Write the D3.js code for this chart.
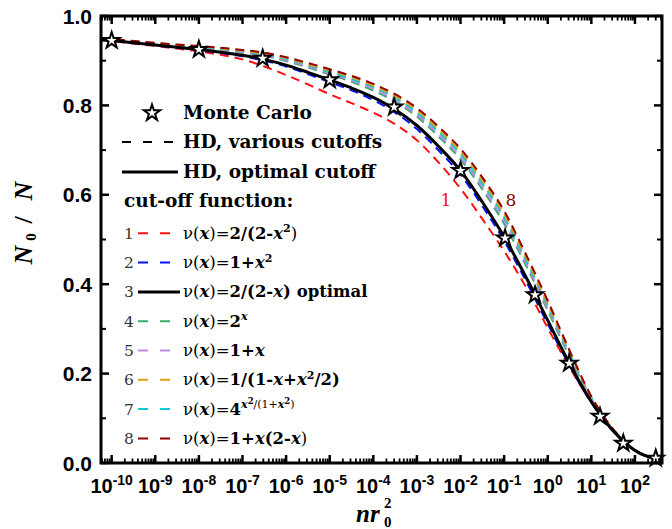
<!DOCTYPE html>
<html><head><meta charset="utf-8">
<script src="https://cdn.jsdelivr.net/npm/d3@7"></script>
<style>body{margin:0;background:#fff} svg{display:block}</style>
</head><body>
<svg id="c" width="672" height="529"></svg>
<script>
// ---- data (x = n r0^2, half-decade grid) ----
const xGrid = [5.62e-11, 1e-10, 3.16e-10, 1e-9, 3.16e-9, 1e-8, 3.16e-8, 1e-7, 3.16e-7, 1e-6, 3.16e-6, 1e-5, 3.16e-5, 1e-4, 3.16e-4, 1e-3, 3.16e-3, 1e-2, 3.16e-2, 0.1, 0.316, 1, 3.16, 10, 31.6, 100, 417];
const hd1 = [0.946, 0.944, 0.938, 0.933, 0.927, 0.921, 0.913, 0.903, 0.887, 0.868, 0.847, 0.825, 0.805, 0.784, 0.758, 0.722, 0.672, 0.614, 0.546, 0.474, 0.394, 0.302, 0.214, 0.136, 0.071, 0.027, 0.006];
const hd2 = [0.947, 0.945, 0.940, 0.934, 0.929, 0.924, 0.917, 0.910, 0.900, 0.887, 0.870, 0.852, 0.834, 0.812, 0.784, 0.747, 0.699, 0.645, 0.575, 0.497, 0.407, 0.311, 0.218, 0.135, 0.071, 0.028, 0.006];
const hd3 = [0.947, 0.945, 0.940, 0.935, 0.930, 0.925, 0.919, 0.912, 0.903, 0.890, 0.874, 0.857, 0.839, 0.818, 0.791, 0.755, 0.708, 0.654, 0.584, 0.506, 0.416, 0.319, 0.222, 0.137, 0.072, 0.028, 0.006];
const hd4 = [0.949, 0.947, 0.942, 0.938, 0.933, 0.929, 0.924, 0.918, 0.911, 0.899, 0.885, 0.869, 0.853, 0.833, 0.808, 0.775, 0.730, 0.679, 0.612, 0.535, 0.442, 0.341, 0.237, 0.143, 0.074, 0.029, 0.006];
const hd5 = [0.949, 0.947, 0.943, 0.938, 0.934, 0.930, 0.925, 0.919, 0.912, 0.901, 0.887, 0.872, 0.856, 0.837, 0.812, 0.779, 0.735, 0.684, 0.618, 0.542, 0.448, 0.346, 0.241, 0.144, 0.075, 0.029, 0.006];
const hd6 = [0.950, 0.948, 0.944, 0.939, 0.935, 0.932, 0.928, 0.922, 0.916, 0.906, 0.892, 0.878, 0.863, 0.844, 0.821, 0.789, 0.746, 0.697, 0.632, 0.557, 0.460, 0.357, 0.248, 0.147, 0.076, 0.029, 0.006];
const hd7 = [0.949, 0.947, 0.943, 0.939, 0.935, 0.931, 0.927, 0.921, 0.914, 0.904, 0.890, 0.875, 0.859, 0.841, 0.817, 0.784, 0.741, 0.691, 0.625, 0.550, 0.454, 0.352, 0.245, 0.146, 0.075, 0.029, 0.006];
const hd8 = [0.950, 0.948, 0.944, 0.940, 0.936, 0.933, 0.929, 0.924, 0.918, 0.908, 0.895, 0.881, 0.866, 0.848, 0.825, 0.794, 0.752, 0.703, 0.639, 0.564, 0.467, 0.363, 0.252, 0.149, 0.076, 0.029, 0.006];
const mcX = [1e-10, 1e-8, 2.9e-7, 1e-5, 3e-4, 1e-2, 0.105, 0.51, 3.1, 15.8, 54, 300];
const mcY = [0.945, 0.925, 0.905, 0.857, 0.796, 0.654, 0.503, 0.376, 0.223, 0.104, 0.044, 0.0105];
const seriesNums = ["1","2","3","4","5","6","7","8"];
const seriesColors = ["#ff1010","#0010ff","#000000","#3aaa6a","#c08ae0","#e0a010","#10c8d0","#900000"];
const seriesData = [hd1, hd2, hd3, hd4, hd5, hd6, hd7, hd8];
const drawOrder = [3, 4, 6, 5, 7, 0, 1, 2];
const xTickExps = [-10,-9,-8,-7,-6,-5,-4,-3,-2,-1,0,1,2];
const yTicks = [0.0, 0.2, 0.4, 0.6, 0.8, 1.0];
const yMinor = [0.1, 0.3, 0.5, 0.7, 0.9];
// legend formulas: [text, style, level]
const formulas = [
  [["ν(","n",0],["x","bi",0],[")=","n",0],["2/(2-","b",0],["x","bi",0],["2","b",1],[")","n",0]],
  [["ν(","n",0],["x","bi",0],[")=","n",0],["1+","b",0],["x","bi",0],["2","b",1]],
  [["ν(","n",0],["x","bi",0],[")=","n",0],["2/(2-","b",0],["x","bi",0],[") optimal","b",0]],
  [["ν(","n",0],["x","bi",0],[")=","n",0],["2","b",0],["x","bi",1]],
  [["ν(","n",0],["x","bi",0],[")=","n",0],["1+","b",0],["x","bi",0]],
  [["ν(","n",0],["x","bi",0],[")=","n",0],["1/(1-","b",0],["x","bi",0],["+","b",0],["x","bi",0],["2","b",1],["/2)","b",0]],
  [["ν(","n",0],["x","bi",0],[")=","n",0],["4","b",0],["x","bi",1],["2","b",2],["/(1+","n",1],["x","bi",1],["2","b",2],[")","n",1]],
  [["ν(","n",0],["x","bi",0],[")=","n",0],["1+","b",0],["x","bi",0],["(2-","b",0],["x","bi",0],[")","n",0]]
];

const svg = d3.select("#c");
const L = 101, R = 662, T = 16, B = 463;
const x = d3.scaleLog().domain([5.69e-11, 417]).range([L, R]);
const y = d3.scaleLinear().domain([0, 1]).range([B, T]);

const line = d3.line().x(d => x(d[0])).y(d => y(d[1])).curve(d3.curveMonotoneX);
const plot = svg.append("g");
drawOrder.forEach(i => {
  const pts = xGrid.map((v, k) => [v, seriesData[i][k]]);
  plot.append("path").attr("d", line(pts)).attr("fill", "none")
    .attr("stroke", seriesColors[i])
    .attr("stroke-width", i === 2 ? 3 : 2)
    .attr("stroke-dasharray", i === 2 ? null : "9,6");
});
const star = d3.symbol().type(d3.symbolStar).size(82);
mcX.forEach((v, k) => {
  plot.append("path").attr("d", star()).attr("transform", `translate(${x(v)},${y(mcY[k])})`)
    .attr("fill", "#fff").attr("stroke", "#000").attr("stroke-width", 2);
});

// frame
const ax = svg.append("g").attr("stroke", "#000");
ax.append("rect").attr("x", L).attr("y", T).attr("width", R - L).attr("height", B - T)
  .attr("fill", "none").attr("stroke-width", 3);
yTicks.forEach(v => {
  ax.append("line").attr("x1", L).attr("x2", L + 8).attr("y1", y(v)).attr("y2", y(v)).attr("stroke-width", 2.5);
  ax.append("line").attr("x1", R).attr("x2", R - 8).attr("y1", y(v)).attr("y2", y(v)).attr("stroke-width", 2.5);
});
yMinor.forEach(v => {
  ax.append("line").attr("x1", L).attr("x2", L + 5).attr("y1", y(v)).attr("y2", y(v)).attr("stroke-width", 2);
  ax.append("line").attr("x1", R).attr("x2", R - 5).attr("y1", y(v)).attr("y2", y(v)).attr("stroke-width", 2);
});
xTickExps.forEach(e => {
  const px = x(Math.pow(10, e));
  ax.append("line").attr("x1", px).attr("x2", px).attr("y1", B).attr("y2", B - 8).attr("stroke-width", 2.5);
  ax.append("line").attr("x1", px).attr("x2", px).attr("y1", T).attr("y2", T + 8).attr("stroke-width", 2.5);
});
for (let e = -11; e <= 2; e++) {
  for (let m = 2; m <= 9; m++) {
    const v = m * Math.pow(10, e);
    if (v < x.domain()[0] || v > x.domain()[1]) continue;
    const px = x(v);
    ax.append("line").attr("x1", px).attr("x2", px).attr("y1", B).attr("y2", B - 4.5).attr("stroke-width", 1.8);
    ax.append("line").attr("x1", px).attr("x2", px).attr("y1", T).attr("y2", T + 4.5).attr("stroke-width", 1.8);
  }
}
// tick labels
const sans = "'Liberation Sans', Arial, sans-serif";
yTicks.forEach(v => {
  svg.append("text").attr("x", 92).attr("y", y(v) + 7.5).attr("text-anchor", "end")
    .attr("font-family", sans).attr("font-weight", "bold").attr("font-size", 21).text(v.toFixed(1));
});
xTickExps.forEach(e => {
  const t = svg.append("text").attr("x", x(Math.pow(10, e))).attr("y", 493).attr("text-anchor", "middle")
    .attr("font-family", sans).attr("font-weight", "bold").attr("font-size", 20);
  t.append("tspan").text("10");
  t.append("tspan").attr("dy", -8).attr("font-size", 14).text(e < 0 ? "-" + (-e) : String(e));
});
// axis titles
const serif = "'Liberation Serif', 'Times New Roman', serif";
const ylg = svg.append("g").attr("transform", "translate(32,0) rotate(-90)")
  .attr("font-family", serif).attr("font-weight", "bold").attr("text-anchor", "middle");
ylg.append("text").attr("x", -255).attr("y", 0).attr("font-style", "italic").attr("font-size", 26).text("N");
ylg.append("text").attr("x", -237).attr("y", 4).attr("font-size", 15).text("0");
ylg.append("text").attr("x", -220).attr("y", 0).attr("font-size", 26).text("/");
ylg.append("text").attr("x", -191).attr("y", 0).attr("font-style", "italic").attr("font-size", 26).text("N");
svg.append("text").attr("x", 356).attr("y", 522).attr("font-family", serif).attr("font-style", "italic")
  .attr("font-weight", "bold").attr("font-size", 25).text("nr");
svg.append("text").attr("x", 384).attr("y", 508).attr("font-family", serif).attr("font-weight", "bold").attr("font-size", 15).text("2");
svg.append("text").attr("x", 384).attr("y", 527).attr("font-family", serif).attr("font-weight", "bold").attr("font-size", 15).text("0");

// annotations
const dv = "'DejaVu Serif', serif";
svg.append("text").attr("x", 446).attr("y", 206).attr("text-anchor", "middle").attr("font-family", dv)
  .attr("font-size", 17).attr("fill", seriesColors[0]).text(seriesNums[0]);
svg.append("text").attr("x", 511).attr("y", 206).attr("text-anchor", "middle").attr("font-family", dv)
  .attr("font-size", 17).attr("fill", seriesColors[7]).text(seriesNums[7]);

// legend
const lg = svg.append("g");
lg.append("path").attr("d", star()).attr("transform", "translate(152,113)")
  .attr("fill", "#fff").attr("stroke", "#000").attr("stroke-width", 2);
const legText = (xx, yy, s) => lg.append("text").attr("x", xx).attr("y", yy).attr("font-family", dv)
  .attr("font-weight", "bold").attr("font-size", 18.5).text(s);
legText(183, 119, "Monte Carlo");
lg.append("line").attr("x1", 122).attr("x2", 175).attr("y1", 142).attr("y2", 142)
  .attr("stroke", "#000").attr("stroke-width", 2).attr("stroke-dasharray", "9,12");
legText(183, 148, "HD, various cutoffs");
lg.append("line").attr("x1", 122).attr("x2", 178).attr("y1", 172).attr("y2", 172)
  .attr("stroke", "#000").attr("stroke-width", 3);
legText(183, 178, "HD, optimal cutoff");
legText(124, 207, "cut-off function:");
const lvSize = [16.5, 11, 8.5], lvOff = [0, -6.5, -10.5];
seriesNums.forEach((n, i) => {
  const ly = 233.3 + i * 29.3;
  lg.append("text").attr("x", 124).attr("y", ly + 5.5).attr("font-family", dv).attr("font-size", 15.5)
    .attr("fill", "#333").text(n);
  lg.append("line").attr("x1", 138).attr("x2", i === 2 ? 180 : 172).attr("y1", ly).attr("y2", ly)
    .attr("stroke", seriesColors[i]).attr("stroke-width", i === 2 ? 3 : 2)
    .attr("stroke-dasharray", i === 2 ? null : "10,12");
  const t = lg.append("text").attr("x", 183).attr("y", ly + 5.5).attr("font-family", dv).attr("font-size", 16.5);
  let cur = 0;
  formulas[i].forEach(([s, st, lv]) => {
    const sp = t.append("tspan").attr("dy", lvOff[lv] - cur).attr("font-size", lvSize[lv]).text(s);
    cur = lvOff[lv];
    if (st.includes("b")) sp.attr("font-weight", "bold");
    if (st.includes("i")) sp.attr("font-style", "italic");
  });
});
</script>
</body></html>
